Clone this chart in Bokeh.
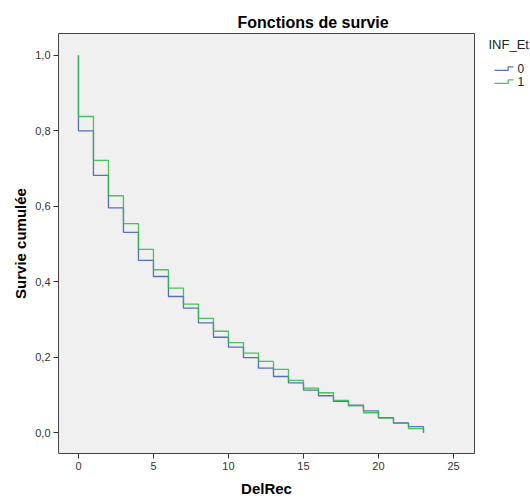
from bokeh.plotting import figure
from bokeh.layouts import row
from bokeh.models import Range1d, Title, FixedTicker, CustomJSTickFormatter
from bokeh.core.properties import value
from bokeh.embed import file_html
from bokeh.resources import INLINE

# Data (Kaplan-Meier cumulative survival)
times = [0, 1, 2, 3, 4, 5, 6, 7, 8, 9, 10, 11, 12, 13, 14, 15, 16, 17, 18, 19, 20, 21, 22, 23]
surv_0 = [0.800, 0.682, 0.596, 0.531, 0.457, 0.414, 0.361, 0.330, 0.291, 0.253, 0.227, 0.199,
          0.171, 0.149, 0.132, 0.113, 0.098, 0.083, 0.073, 0.058, 0.040, 0.026, 0.016, 0.000]
surv_1 = [0.838, 0.722, 0.628, 0.554, 0.486, 0.432, 0.383, 0.341, 0.303, 0.269, 0.239, 0.211,
          0.189, 0.168, 0.139, 0.118, 0.106, 0.086, 0.071, 0.053, 0.039, 0.025, 0.011, 0.000]
groups = ["0", "1"]
legend_title = "INF_Et"
x_ticks = [0, 5, 10, 15, 20, 25]
y_ticks = [0.0, 0.2, 0.4, 0.6, 0.8, 1.0]

FONT = "Liberation Sans"
colors = ["#3E58AC", "#2EB848"]

MAIN_W, LEG_W, H = 480, 50, 499
B_TOP, B_BOTTOM = 33, 45

p = figure(width=MAIN_W, height=H, output_backend="svg", toolbar_location=None,
           x_range=Range1d(-1.33, 26.4), y_range=Range1d(-0.055, 1.058),
           min_border_left=58, min_border_right=6, min_border_top=B_TOP, min_border_bottom=B_BOTTOM)

p.background_fill_color = "#F0F0F0"
p.border_fill_color = "white"
p.outline_line_color = "#444444"
p.outline_line_width = 1
p.xgrid.visible = False
p.ygrid.visible = False

p.title = Title(text="Fonctions de survie", align="left", offset=179,
                text_font=FONT, text_font_size="16px", text_font_style="bold",
                text_color="black", standoff=6)

for ax in (p.xaxis[0], p.yaxis[0]):
    ax.axis_line_color = None
    ax.major_tick_out = 5
    ax.major_tick_in = 0
    ax.major_tick_line_color = "#333333"
    ax.minor_tick_line_color = None
    ax.major_label_text_font = FONT
    ax.major_label_text_font_size = "11px"
    ax.major_label_text_color = "#333333"
    ax.axis_label_text_font = FONT
    ax.axis_label_text_font_size = "15px"
    ax.axis_label_text_font_style = "bold"
    ax.axis_label_text_color = "black"
    ax.major_label_standoff = 3

p.xaxis.axis_label = "DelRec"
p.yaxis.axis_label = "Survie cumulée"
p.xaxis.axis_label_standoff = 7
p.yaxis.axis_label_standoff = 3
p.xaxis.ticker = FixedTicker(ticks=x_ticks)
p.yaxis.ticker = FixedTicker(ticks=y_ticks)
p.xaxis.formatter = CustomJSTickFormatter(code="return tick.toFixed(0);")
p.yaxis.formatter = CustomJSTickFormatter(code="return tick.toFixed(1).replace('.', ',');")

for s, c in zip([surv_0, surv_1], colors):
    xs = [times[0]] + times
    ys = [1.0] + s
    p.step(xs, ys, mode="after", line_color=c, line_width=1.3, line_alpha=0.85)

# Legend panel (outside the plot frame), drawn in a small companion figure in pixel units.
# Its frame is aligned with the main frame (top B_TOP, bottom H - B_BOTTOM).
leg = figure(width=LEG_W, height=H, output_backend="svg", toolbar_location=None,
             x_range=Range1d(MAIN_W, MAIN_W + LEG_W), y_range=Range1d(H - B_BOTTOM, B_TOP),
             x_axis_type=None, y_axis_type=None,
             min_border_left=0, min_border_right=0, min_border_top=0, min_border_bottom=0)
leg.outline_line_color = None
leg.background_fill_color = "white"
leg.border_fill_color = "white"

title_x, title_y = 488, 44
icon_x0, icon_w, row0_y, row_h = 494, 19, 68, 13
leg.text(x=[title_x], y=[title_y], text=[legend_title], text_baseline="middle",
         text_align="left", text_font=value(FONT), text_font_size="13px", text_color="#222222")
for i, (g, c) in enumerate(zip(groups, colors)):
    cy = row0_y + i * row_h
    xs = [icon_x0, icon_x0 + icon_w * 0.72, icon_x0 + icon_w * 0.72, icon_x0 + icon_w]
    ys = [cy + 2, cy + 2, cy - 1.5, cy - 1.5]
    leg.line(xs, ys, line_color=c, line_width=1.3, line_alpha=0.85)
    leg.text(x=[icon_x0 + icon_w + 4], y=[cy], text=[g], text_baseline="middle",
             text_align="left", text_font=value(FONT), text_font_size="12px",
             text_color="#222222")

layout = row(p, leg, spacing=0)
open("out.html", "w").write(file_html(layout, INLINE))
